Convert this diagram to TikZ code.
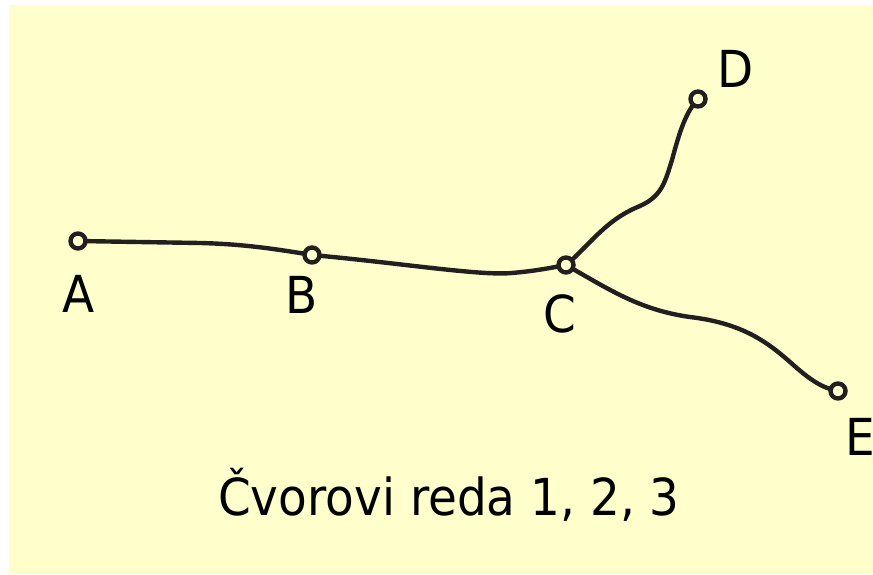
\documentclass[tikz,border=0pt]{standalone}
\usepackage{fontspec}
\setmainfont[FakeStretch=0.92]{DejaVu Sans}
\definecolor{bgyellow}{HTML}{FFFFCC}
\definecolor{linedark}{HTML}{231F20}
\begin{document}
\begin{tikzpicture}[x=1pt,y=-1pt,
  vertex/.style={circle,draw=linedark,fill=bgyellow,line width=4.4pt,minimum size=15pt,inner sep=0pt},
  edge/.style={draw=linedark,line width=4.4pt,line cap=round},
  lbl/.style={anchor=base,inner sep=0pt,font=\fontsize{51}{60}\selectfont,text=black}]
\useasboundingbox (0,0) rectangle (873,575);
\fill[bgyellow] (9,5) rectangle (873,574);
\begin{scope}
\clip (9,5) rectangle (873,574);
\coordinate (a) at (78,241);
\coordinate (b) at (312,255);
\coordinate (c) at (566,265);
\coordinate (d) at (698,99);
\coordinate (e) at (838,391);
\path[edge] (a) -- (200,243) .. controls (240,244) and (270,248) .. (b);
\path[edge] (b) .. controls (400,263) and (480,276) .. (512,273) .. controls (535,271) and (550,268) .. (c);
\path[edge] (c) .. controls (590,245) and (605,220) .. (640,206) .. controls (662,196) and (665,182) .. (672,160) .. controls (680,130) and (686,112) .. (d);
\path[edge] (c) .. controls (610,290) and (640,310) .. (690,317) .. controls (740,323) and (765,340) .. (790,362) .. controls (810,380) and (822,388) .. (e);
\node[vertex] (A) at (a) {};
\node[vertex] (B) at (b) {};
\node[vertex] (C) at (c) {};
\node[vertex] (D) at (d) {};
\node[vertex] (E) at (e) {};
\node[lbl] (lA) at (79,312) {A};
\node[lbl] (lB) at (302,313) {B};
\node[lbl] (lC) at (560,332) {C};
\node[lbl] (lD) at (736,88) {D};
\node[lbl] (lE) at (860,455) {E};
\node[lbl] (title) at (449,515) {Čvorovi reda 1, 2, 3};
\end{scope}
\end{tikzpicture}
\end{document}
